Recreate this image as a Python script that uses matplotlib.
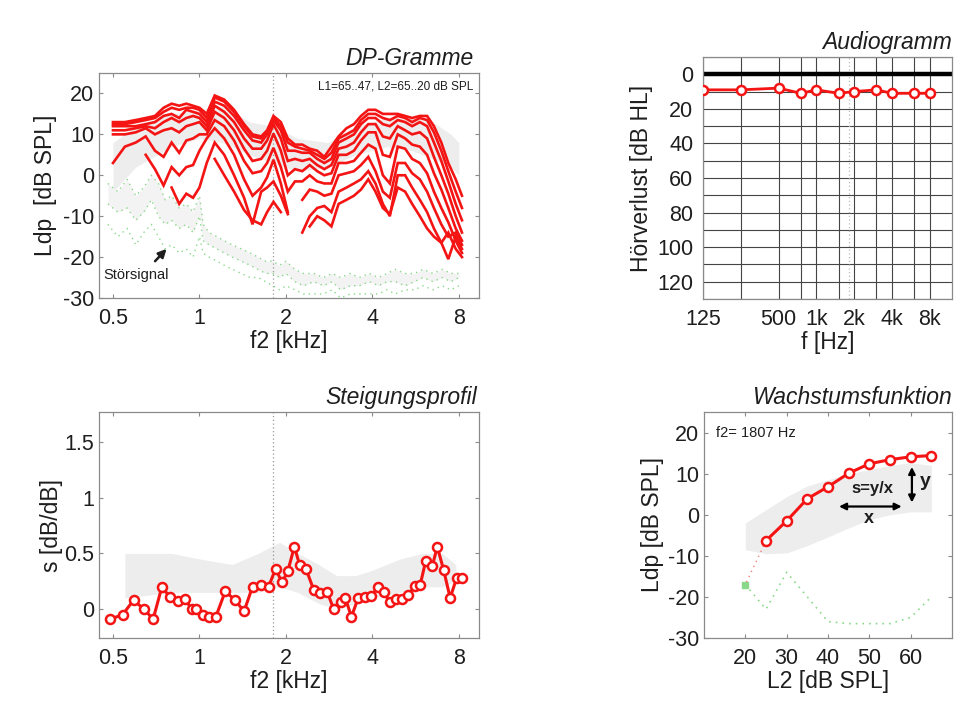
import numpy as np
import matplotlib
matplotlib.use('Agg')
import matplotlib.pyplot as plt

plt.rcParams['font.family'] = ['Liberation Sans', 'DejaVu Sans']
plt.rcParams['axes.unicode_minus'] = False

nan = np.nan
RED = '#f41414'
GREEN = '#8ad88a'
GRAY = '#ededed'
INK = '#1e1e1e'

# ---- DP-Gramme: Ldp over f2 for L2 = 65 .. 25 dB SPL
dp_f = [0.50, 0.55, 0.60, 0.65, 0.70, 0.75, 0.80, 0.85, 0.90, 0.95,
        1.00, 1.06, 1.13, 1.22, 1.32, 1.43, 1.53, 1.64, 1.72, 1.81,
        1.92, 2.03, 2.15, 2.28, 2.42, 2.57, 2.72, 2.88, 3.05, 3.25,
        3.45, 3.65, 3.87, 4.10, 4.35, 4.60, 4.90, 5.20, 5.50, 5.85,
        6.20, 6.55, 6.95, 7.35, 7.80, 8.20]
dp_65 = [13, 13, 13.5, 14, 14.5, 16.5, 17.5, 17, 17.5, 17,
         16.5, 15, 19.5, 18.5, 16, 12.5, 10, 9.5, 11, 14.5,
         13, 9, 7.5, 7.5, 6.5, 6, 4.5, 7, 9.5, 11.5,
         12.5, 14.5, 16, 16, 15, 15, 15, 14.5, 14, 14.5,
         14.5, 12, 8, 3, -1, -5]
dp_60 = [12.5, 12.5, 13, 13.5, 14, 15.5, 16.5, 16, 16.5, 16.5,
         16, 14, 19, 18, 15.5, 12, 9.5, 9, 10.5, 14,
         12, 8, 7, 6.5, 6, 5, 4, 5.5, 9, 10,
         11, 13.5, 15, 15, 14, 13.5, 14.5, 14, 13, 14,
         13.5, 10.5, 6, 1, -4, -8]
dp_55 = [12, 12, 12, 12.5, 13, 14.5, 15, 14, 16, 15.5,
         15, 13, 18, 17, 14.5, 11, 8.5, 8, 10, 13.5,
         11, 6, 6, 5.5, 5.5, 4, 3, 4, 8, 9,
         10, 12.5, 14, 14, 12.5, 12, 13.5, 13, 12, 13,
         12, 8, 3.5, -1.5, -7, -11]
dp_50 = [11, 11, 11.5, 12, 11.5, 13, 14, 13, 14, 14.5,
         14, 12, 17, 15.5, 13, 9, 6.5, 6.5, 8.5, 12.5,
         9, 3.5, 4, 3.5, 4, 2.5, 1.5, 2.5, 6.5, 7,
         8, 10.5, 12.5, 12.5, 9.5, 9, 12, 11, 10, 10.5,
         9, 4.5, 0, -4.5, -10, -14]
dp_45 = [10, 10, 10.5, 11.5, 10, 11, 11.5, 10.5, 12, 12.5,
         13, 11, 15.5, 14, 11, 6.5, 3.5, 4, 6, 10.2,
         6, 0, 1.5, 1, 2.5, 1, 0, 0.5, 5, 5,
         6, 8.5, 10.5, 10.5, 5, 4.5, 10, 9, 7.5, 7,
         5, 0.5, -3.5, -8, -13, -16]
dp_40 = [3, 7, 8, 9.5, 6, 4.5, 8, 5.5, 8.5, 9,
         10, 10, 13.5, 12, 8.5, 3.5, 0.5, 1, 3, 6.7,
         2, -4, -1.5, -1.5, 0, -1.5, -2, -2, 3, 3,
         3.5, 5.5, 7.5, 6.5, 0, -2, 7, 6.5, 4, 3,
         0.5, -4, -8, -11.5, -16, -19]
dp_35 = [nan, nan, nan, 5, 1.5, -2.5, 2, 0, 2, 2.5,
         6, 9, 11.5, 9, 5, -1, -5, -3, -0.5, 3.8,
         -2, -9, nan, -6, -3.5, -4, -5, -4.5, 0, 0.5,
         1, 2.5, 4.5, 1, -4, -5.5, 3, 3, 0.5, -1,
         -4, -8, -12, -15, -14, -17]
dp_30 = [nan, nan, nan, nan, nan, nan, -3, -7, -4.5, -5.5,
         -3, 3, 8, 5, 0, -5.5, -12, -4, -3, -1.5,
         -5, -9.5, nan, -14, -10, -8, -7.5, -9, -4, -3,
         -2, -1, 1, -2, -7, -10, 0, 0, -3, -6,
         -9, -13, -16.5, -20.5, -15, -18]
dp_25 = [nan, nan, nan, nan, nan, nan, nan, nan, nan, nan,
         nan, nan, 4, 0, -4, -8.5, -11, -12, -9, -6.5,
         -9, nan, nan, nan, -12.5, -10, -11, -12.5, -7, -6,
         -5, -3.5, -1, -4, -8, -9.5, -3, -4, -7, -10,
         -13, -15, -16.5, -14, -18, -20]
dp_curves = [dp_65, dp_60, dp_55, dp_50, dp_45, dp_40, dp_35, dp_30, dp_25]

# normal range (gray) behind the DP-grams
band_f = [0.5, 0.6, 0.8, 1.0, 1.2, 1.5, 1.8, 2.2, 2.8, 3.5, 4.5, 5.5, 6.5, 7.5, 8.0]
band_lo = [-4, 2, 7, 9, 8, 5, 3, 1, 2, 5, 7, 6, 4, 2, 0]
band_hi = [8, 12, 15, 16, 17, 13, 12, 9, 8, 12, 14, 14, 13, 10, 8]

# noise floor (Störsignal)
noise_f = [0.48, 0.52, 0.56, 0.60, 0.64, 0.68, 0.72, 0.76, 0.80, 0.85,
           0.90, 0.95, 1.00, 1.03, 1.08, 1.15, 1.22, 1.30, 1.40, 1.50,
           1.60, 1.70, 1.80, 1.90, 2.00, 2.15, 2.30, 2.50, 2.70, 2.90,
           3.10, 3.35, 3.60, 3.90, 4.20, 4.50, 4.80, 5.20, 5.60, 6.00,
           6.50, 7.00, 7.50, 8.00]
noise_hi = [-2, -4, -1, -5, -3, 0, -2, -6, -5, -8,
            -7, -9, -5, -12, -14, -15, -16, -17, -18, -19,
            -20, -21, -21, -22, -21, -23, -24, -24, -25, -24,
            -25, -24, -25, -24, -25, -24, -23, -24, -24, -23,
            -24, -23, -24, -24]
noise_mid = [-7, -9, -8, -11, -9, -6, -10, -12, -11, -13,
             -12, -14, -10, -16, -17, -18, -19, -20, -21, -22,
             -23, -24, -24, -25, -24, -26, -27, -26, -27, -26,
             -28, -27, -27, -26, -27, -26, -26, -27, -26, -25,
             -26, -25, -26, -25]
noise_lo = [-12, -15, -13, -17, -14, -12, -15, -18, -17, -19,
            -18, -20, -15, -19, -20, -21, -22, -23, -24, -25,
            -25, -26, -27, -28, -27, -28, -29, -29, -29, -28,
            -30, -29, -29, -29, -29, -28, -29, -28, -28, -27,
            -28, -27, -28, -27]

# ---- Audiogramm
aud_f = [125, 250, 500, 750, 1000, 1500, 2000, 3000, 4000, 6000, 8000]
aud_hl = [9, 9, 8, 11, 9, 11, 10, 9, 11, 11, 11]
aud_tick_f = [125, 500, 1000, 2000, 4000, 8000]
aud_tick_lab = ['125', '500', '1k', '2k', '4k', '8k']

# ---- Steigungsprofil
slope_f = [0.49, 0.54, 0.59, 0.64, 0.69, 0.74, 0.79, 0.84, 0.89, 0.94,
           0.97, 1.03, 1.08, 1.14, 1.23, 1.33, 1.43, 1.53, 1.64, 1.74,
           1.84, 1.94, 2.03, 2.14, 2.23, 2.35, 2.50, 2.63, 2.79, 2.93,
           3.10, 3.22, 3.38, 3.57, 3.77, 3.96, 4.20, 4.39, 4.60, 4.83,
           5.07, 5.34, 5.63, 5.87, 6.13, 6.47, 6.73, 7.08, 7.46, 7.86, 8.20]
slope_s = [-0.09, -0.05, 0.08, 0.0, -0.09, 0.2, 0.105, 0.075, 0.09, 0.0,
           0.0, -0.05, -0.07, -0.07, 0.16, 0.08, -0.02, 0.2, 0.22, 0.2,
           0.36, 0.24, 0.34, 0.56, 0.40, 0.36, 0.17, 0.14, 0.15, 0.0,
           0.06, 0.1, -0.07, 0.1, 0.11, 0.12, 0.2, 0.15, 0.06, 0.09,
           0.09, 0.13, 0.21, 0.22, 0.43, 0.39, 0.56, 0.35, 0.10, 0.28, 0.28]
sband_f = [0.55, 0.8, 1.0, 1.3, 1.6, 1.9, 2.2, 2.6, 3.0, 3.5, 4.0, 5.0, 6.0, 7.0, 7.8]
sband_lo = [0.1, 0.15, 0.15, 0.15, 0.15, 0.2, 0.15, 0.05, 0.0, 0.05, 0.1, 0.15, 0.2, 0.2, 0.25]
sband_hi = [0.5, 0.5, 0.45, 0.4, 0.5, 0.6, 0.5, 0.4, 0.3, 0.3, 0.35, 0.45, 0.5, 0.5, 0.4]

# ---- Wachstumsfunktion at f2 = 1807 Hz
grow_l2 = [25, 30, 35, 40, 45, 50, 55, 60, 65]
grow_ldp = [-6.3, -1.5, 3.9, 6.8, 10.1, 12.4, 13.4, 14.1, 14.4]
gband_l2 = [20, 25, 30, 35, 40, 45, 50, 55, 60, 65]
gband_lo = [-8.5, -9.5, -9.3, -7.5, -5.4, -3.2, -1.2, 0, 0.7, 0.7]
gband_hi = [-2, 1.2, 4.4, 7, 8.5, 10, 11, 12, 12.7, 12]
gnoise_l2 = [20, 25, 30, 35, 40, 45, 50, 55, 60, 65]
gnoise_ldp = [-17, -23, -14, -20, -26, -26.5, -26.5, -26.5, -25, -20]
F2_MARK = 1.807

fig = plt.figure(figsize=(9.66, 7.04), dpi=100)
W, H = 966.0, 704.0
TICK_FS = 15.5
LAB_FS = 16.5


def box(l, t, r, b):
    return [l / W, 1 - b / H, (r - l) / W, (b - t) / H]


def style(ax):
    for s in ax.spines.values():
        s.set_color('#8a8a8a')
        s.set_linewidth(0.9)
    ax.tick_params(direction='in', length=3, width=0.8, color='#8a8a8a',
                   top=True, right=True, labelsize=TICK_FS, labelcolor=INK)


def title(ax, txt, dx=0.0):
    ax.text(1.0 - dx, 1.012, txt, transform=ax.transAxes, ha='right', va='bottom',
            fontsize=16.5, fontstyle='italic', color=INK)


def f2_axis(ax):
    ax.set_xscale('log')
    ax.set_xlim(0.447, 9.4)
    ax.set_xticks([0.5, 1, 2, 4, 8])
    ax.set_xticklabels(['0.5', '1', '2', '4', '8'])
    ax.xaxis.set_minor_locator(matplotlib.ticker.NullLocator())
    ax.tick_params(axis='x', pad=7)
    ax.set_xlabel('f2 [kHz]', fontsize=LAB_FS, color=INK, labelpad=1)
    ax.axvline(F2_MARK, color='#9a9a9a', ls=(0, (1, 2)), lw=0.9, zorder=1)


# DP-Gramme
ax1 = fig.add_axes(box(99, 73, 479, 298))
style(ax1)
f2_axis(ax1)
ax1.fill_between(band_f, band_lo, band_hi, color=GRAY, lw=0, zorder=0)
ax1.fill_between(noise_f, noise_mid, noise_hi, color='#f3f3f3', lw=0, zorder=0)
for nz in (noise_hi, noise_mid, noise_lo):
    ax1.plot(noise_f, nz, ls=(0, (1, 3)), color=GREEN, lw=1.0, zorder=2)
for c in dp_curves:
    ax1.plot(dp_f, c, color=RED, lw=1.9, zorder=3, solid_joinstyle='miter')
ax1.set_ylim(-30, 25)
ax1.set_yticks([-30, -20, -10, 0, 10, 20])
ax1.set_ylabel('Ldp  [dB SPL]', fontsize=LAB_FS, color=INK, labelpad=4)
ax1.text(0.985, 0.965, 'L1=65..47, L2=65..20 dB SPL', transform=ax1.transAxes,
         ha='right', va='top', fontsize=8.5, color=INK)
ax1.annotate('', xy=(0.78, -17.5), xytext=(0.69, -21.5),
             arrowprops=dict(arrowstyle='-|>', color=INK, lw=1.8, mutation_scale=12))
ax1.text(0.6, -24.5, 'Störsignal', ha='center', va='center', fontsize=10.5, color=INK)
title(ax1, 'DP-Gramme', dx=0.015)

# Audiogramm
ax2 = fig.add_axes(box(703, 57, 952, 299))
style(ax2)
ax2.set_xscale('log')
ax2.set_xlim(125, 12000)
ax2.set_ylim(130, -10)
for g in aud_f:
    ax2.axvline(g, color='#444444', lw=0.8, zorder=1)
for hl in range(-10, 131, 10):
    ax2.axhline(hl, color='#444444', lw=0.8, zorder=1)
ax2.axvline(F2_MARK * 1000, color='#bbbbbb', ls=(0, (1, 2)), lw=0.9, zorder=1)
ax2.axhline(0, color='black', lw=3.2, zorder=2)
ax2.plot(aud_f, aud_hl, color=RED, lw=2, marker='o', ms=6.5, mfc='white',
         mec=RED, mew=1.8, zorder=3)
ax2.set_xticks(aud_tick_f)
ax2.set_xticklabels(aud_tick_lab)
ax2.xaxis.set_minor_locator(matplotlib.ticker.NullLocator())
ax2.set_yticks([0, 20, 40, 60, 80, 100, 120])
ax2.tick_params(length=0, pad=7)
ax2.set_xlabel('f [Hz]', fontsize=LAB_FS, color=INK, labelpad=1)
ax2.set_ylabel('Hörverlust [dB HL]', fontsize=LAB_FS, color=INK, labelpad=3)
title(ax2, 'Audiogramm')

# Steigungsprofil
ax3 = fig.add_axes(box(99, 412, 479, 638))
style(ax3)
f2_axis(ax3)
ax3.fill_between(sband_f, sband_lo, sband_hi, color=GRAY, lw=0, zorder=0)
ax3.plot(slope_f, slope_s, color=RED, lw=2.2, marker='o', ms=6.5, mfc='white',
         mec=RED, mew=1.8, zorder=3)
ax3.set_ylim(-0.26, 1.77)
ax3.set_yticks([0, 0.5, 1, 1.5])
ax3.set_yticklabels(['0', '0.5', '1', '1.5'])
ax3.set_ylabel('s [dB/dB]', fontsize=LAB_FS, color=INK, labelpad=1)
title(ax3, 'Steigungsprofil', dx=0.005)

# Wachstumsfunktion
ax4 = fig.add_axes(box(704, 412, 952, 638))
style(ax4)
ax4.set_xlim(10, 70)
ax4.set_ylim(-30, 25)
ax4.set_xticks([20, 30, 40, 50, 60])
ax4.set_yticks([-30, -20, -10, 0, 10, 20])
ax4.tick_params(axis='x', pad=7)
ax4.fill_between(gband_l2, gband_lo, gband_hi, color=GRAY, lw=0, zorder=0)
ax4.plot(gnoise_l2, gnoise_ldp, ls=(0, (1, 3)), color=GREEN, lw=1.2, zorder=2)
ax4.plot(gnoise_l2[:1], gnoise_ldp[:1], ls='none', marker='s', ms=4, color=GREEN, zorder=2)
ax4.plot([grow_l2[0], gnoise_l2[0]], [grow_ldp[0], gnoise_ldp[0]],
         ls=(0, (1, 3)), color='#f08080', lw=1.0, zorder=2)
ax4.plot(grow_l2, grow_ldp, color=RED, lw=2.2, marker='o', ms=6.5, mfc='white',
         mec=RED, mew=1.8, zorder=3)
ax4.text(13, 20, 'f2= 1807 Hz', ha='left', va='center', fontsize=10.5, color=INK)
ax4.text(50.7, 6.3, 's=y/x', ha='center', va='center', fontsize=12,
         fontweight='bold', color=INK)
ax4.annotate('', xy=(58.5, 2), xytext=(42, 2),
             arrowprops=dict(arrowstyle='<|-|>', color='black', lw=1.6, mutation_scale=10))
ax4.annotate('', xy=(60.3, 12.3), xytext=(60.3, 2.3),
             arrowprops=dict(arrowstyle='<|-|>', color='black', lw=1.6, mutation_scale=10))
ax4.text(50, -0.8, 'x', ha='center', va='center', fontsize=13, fontweight='bold', color=INK)
ax4.text(63.5, 8, 'y', ha='center', va='center', fontsize=14, fontweight='bold', color=INK)
ax4.set_xlabel('L2 [dB SPL]', fontsize=LAB_FS, color=INK, labelpad=1)
ax4.set_ylabel('Ldp [dB SPL]', fontsize=LAB_FS, color=INK, labelpad=3)
title(ax4, 'Wachstumsfunktion')

fig.savefig('out.png', dpi=100, facecolor='white')
